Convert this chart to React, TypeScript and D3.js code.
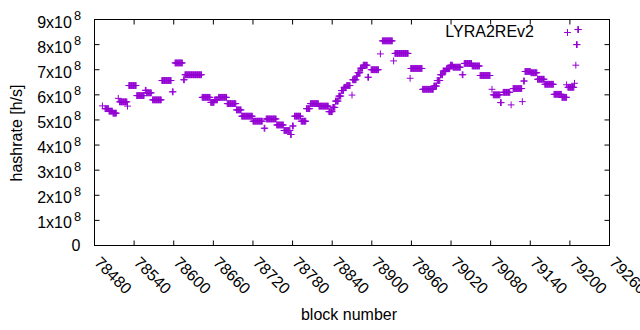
import React from 'react';
import * as d3 from 'd3';

const xTickValues = [78480, 78540, 78600, 78660, 78720, 78780, 78840, 78900, 78960, 79020, 79080, 79140, 79200, 79260];
const yTickValues = [0, 1e8, 2e8, 3e8, 4e8, 5e8, 6e8, 7e8, 8e8, 9e8];
const seriesName = 'LYRA2REv2';

// runs of consecutive blocks sharing the same hashrate estimate
const runFrom = [
  78492, 78496, 78502, 78508, 78516, 78518, 78530, 78532, 78544, 78557, 78559, 78568, 78582, 78598, 78602, 78615, 78617,
  78643, 78656, 78662, 78668, 78681, 78695, 78703, 78720, 78737, 78740, 78756, 78767, 78777, 78780, 78783, 78793, 78801,
  78807, 78820, 78835, 78841, 78845, 78850, 78854, 78858, 78862, 78870, 78871, 78877, 78879, 78883, 78887, 78894, 78899,
  78913, 78916, 78933, 78935, 78958, 78959, 78977, 78994, 78999, 79004, 79008, 79013, 79019, 79023, 79037, 79040, 79052,
  79064, 79082, 79084, 79095, 79099, 79111, 79114, 79128, 79130, 79132, 79141, 79151, 79162, 79176, 79188, 79195, 79197,
  79207, 79209, 79210, 79212,
];
const runTo = [
  78492, 78501, 78507, 78513, 78516, 78529, 78530, 78543, 78555, 78558, 78566, 78581, 78596, 78599, 78613, 78616, 78642,
  78655, 78661, 78666, 78680, 78694, 78702, 78719, 78734, 78738, 78755, 78766, 78776, 78778, 78781, 78792, 78800, 78806,
  78819, 78834, 78840, 78844, 78849, 78853, 78857, 78861, 78867, 78870, 78876, 78878, 78882, 78886, 78893, 78895, 78910,
  78913, 78931, 78933, 78955, 78958, 78976, 78993, 78998, 79003, 79007, 79012, 79018, 79022, 79034, 79038, 79051, 79063,
  79079, 79082, 79094, 79096, 79109, 79111, 79127, 79128, 79131, 79140, 79150, 79161, 79175, 79187, 79195, 79195, 79206,
  79207, 79209, 79211, 79213,
];
const runRate = [
  5.56, 5.45, 5.35, 5.27, 5.86, 5.72, 5.55, 6.37, 5.97, 6.18, 6.08, 5.8, 6.57, 6.12, 7.27, 6.6, 6.8,
  5.9, 5.7, 5.8, 5.9, 5.65, 5.4, 5.15, 4.95, 4.67, 5.04, 4.8, 4.58, 4.42, 4.76, 5.15, 4.95, 5.45,
  5.65, 5.55, 5.33, 5.5, 5.75, 5.95, 6.17, 6.3, 6.37, 5.99, 6.6, 6.75, 6.88, 7.06, 7.18, 6.7, 7.0,
  7.63, 8.15, 7.35, 7.65, 6.66, 7.05, 6.22, 6.35, 6.57, 6.8, 6.95, 7.04, 7.18, 7.1, 6.8, 7.25, 7.15,
  6.77, 6.22, 6.0, 5.69, 6.1, 5.6, 6.25, 5.73, 6.55, 6.93, 6.88, 6.62, 6.42, 6.02, 5.9, 6.4, 6.3,
  6.46, 7.18, 8.0, 8.6,
].map((v) => v * 1e8);

const FONT = 'Liberation Sans, Arial, Helvetica, sans-serif';
const COLOR = '#9400d3';

export default function App() {
  const W = 640;
  const H = 330;
  const left = 94.5;
  const right = 609.5;
  const top = 19.5;
  const bottom = 245.5;
  const x = d3.scaleLinear().domain([78480, 79260]).range([left, right]);
  const y = d3.scaleLinear().domain([0, 9e8]).range([bottom, top]);
  const tick = 5;
  const s = 3.4;

  const pts: [number, number][] = [];
  runFrom.forEach((f, i) => {
    for (let b = f; b <= runTo[i]; b++) pts.push([b, runRate[i]]);
  });
  const plus = (cx: number, cy: number) => `M${cx - s},${cy}h${2 * s}M${cx},${cy - s}v${2 * s}`;
  const dataPath = pts.map(([b, v]) => plus(x(b), y(v))).join('');

  const tickPath =
    xTickValues.map((t) => `M${x(t)},${bottom}v${-tick}M${x(t)},${top}v${tick}`).join('') +
    yTickValues.map((t) => `M${left},${y(t)}h${tick}M${right},${y(t)}h${-tick}`).join('');

  return (
    <svg width={W} height={H} style={{ position: 'absolute', left: 0, top: 0, background: '#fff' }} fontFamily={FONT}>
      <rect x={0} y={0} width={W} height={H} fill="#fff" />
      <path d={tickPath} stroke="#000" strokeWidth={1} fill="none" />
      <rect x={left} y={top} width={right - left} height={bottom - top} fill="none" stroke="#000" strokeWidth={1} />
      {yTickValues.map((t) => {
        const n = Math.round(t / 1e8);
        if (n === 0)
          return (
            <text key={t} x={80.5} y={y(t) + 5} textAnchor="end" fontSize={16} fill="#000">
              0
            </text>
          );
        return (
          <text key={t} x={81} y={y(t) + 8} textAnchor="end" fontSize={16} fill="#000">
            <tspan>{`${n}x10`}</tspan>
            <tspan dx={2} dy={-7.5} fontSize={12.8}>
              8
            </tspan>
          </text>
        );
      })}
      {xTickValues.map((t) => (
        <text key={t} transform={`translate(${x(t) - 1},${bottom + 18}) rotate(45)`} fontSize={16} fill="#000">
          {t}
        </text>
      ))}
      <text x={349} y={320} textAnchor="middle" fontSize={16} fill="#000">
        block number
      </text>
      <text transform={`translate(22,133) rotate(-90)`} textAnchor="middle" fontSize={16} fill="#000">
        hashrate [h/s]
      </text>
      <text x={534} y={37} textAnchor="end" fontSize={16} fill="#000">
        {seriesName}
      </text>
      <path d={plus(567.5, 32.5)} stroke={COLOR} strokeWidth={1} fill="none" />
      <path d={dataPath} stroke={COLOR} strokeWidth={1} fill="none" />
    </svg>
  );
}
